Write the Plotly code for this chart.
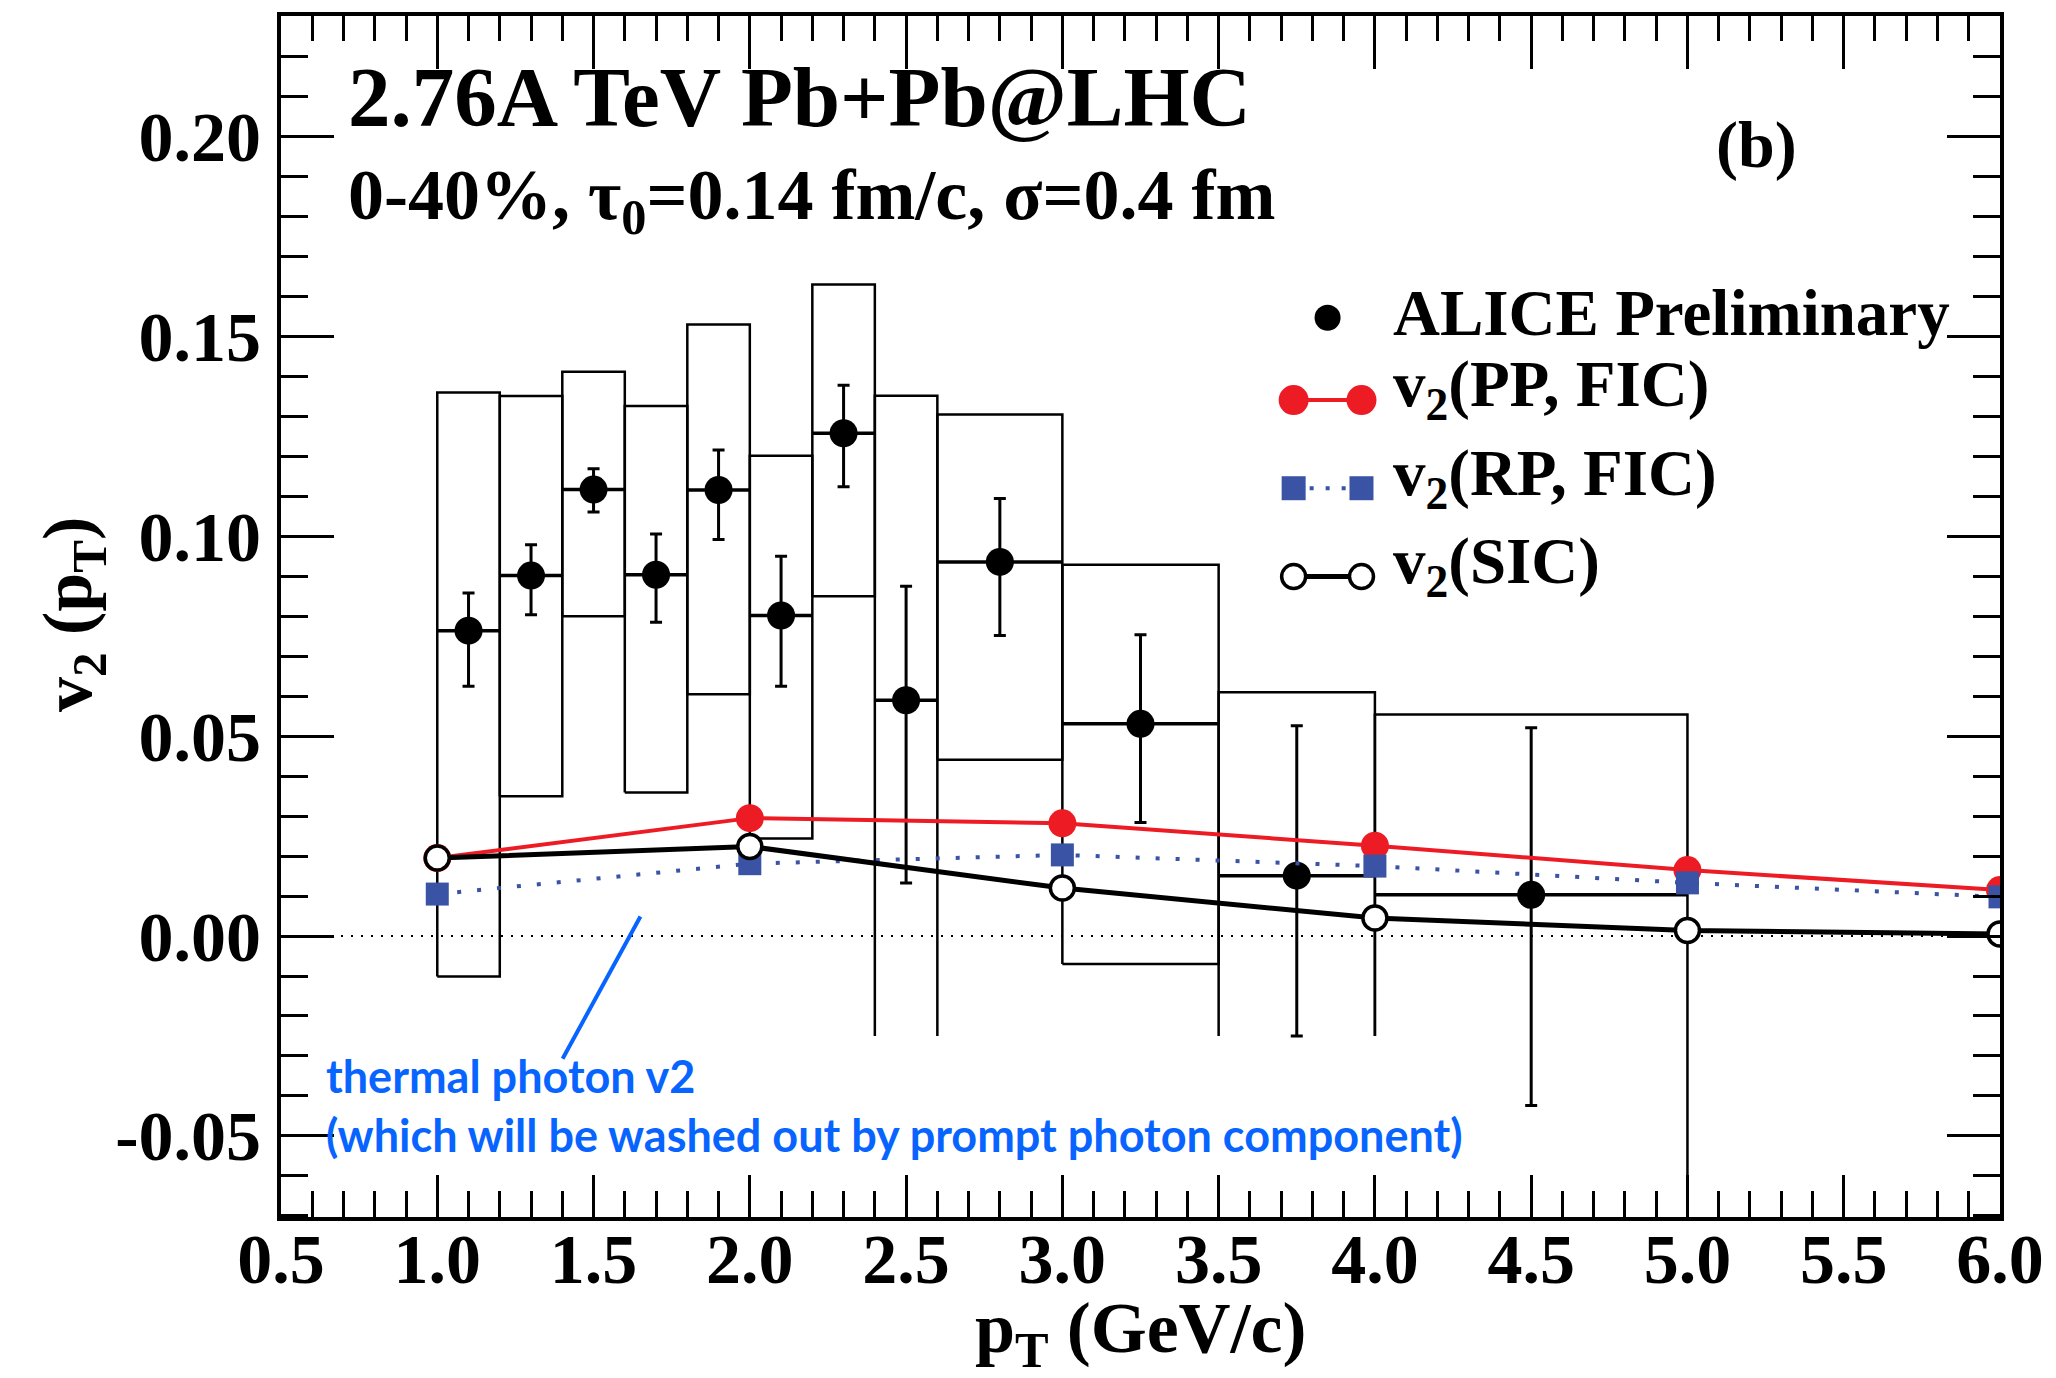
import plotly.graph_objects as go

# ---------------- data ----------------
# ALICE preliminary direct-photon v2 (0-40%)
alice_pt = [1.1, 1.3, 1.5, 1.7, 1.9, 2.1, 2.3, 2.5, 2.8, 3.25, 3.75, 4.5]
alice_v2 = [0.0764, 0.0902, 0.1117, 0.0904, 0.1116, 0.0802, 0.1258, 0.0590, 0.0936, 0.0531, 0.0151, 0.0103]
alice_stat_up = [0.0094, 0.0077, 0.0052, 0.0102, 0.0100, 0.0148, 0.0120, 0.0285, 0.0159, 0.0223, 0.0375, 0.0418]
alice_stat_dn = [0.0139, 0.0098, 0.0056, 0.0119, 0.0124, 0.0177, 0.0134, 0.0457, 0.0184, 0.0247, 0.0401, 0.0527]
bin_lo = [1.0, 1.2, 1.4, 1.6, 1.8, 2.0, 2.2, 2.4, 2.6, 3.0, 3.5, 4.0]
bin_hi = [1.2, 1.4, 1.6, 1.8, 2.0, 2.2, 2.4, 2.6, 3.0, 3.5, 4.0, 5.0]
sys_top = [0.1360, 0.1351, 0.1412, 0.1326, 0.1530, 0.1202, 0.1630, 0.1352, 0.1305, 0.0929, 0.0610, 0.0554]
sys_bottom = [-0.0101, 0.0350, 0.0800, 0.0359, 0.0605, 0.0244, 0.0850, -0.025, 0.0441, -0.0070, -0.025, -0.025]
sys_bottom_shown = [True, True, True, True, True, True, True, False, True, True, False, False]

# hydro calculations
model_pt = [1.0, 2.0, 3.0, 4.0, 5.0, 6.0]
v2_pp_fic = [0.0195, 0.0295, 0.0282, 0.0226, 0.0165, 0.0115]
v2_rp_fic = [0.0105, 0.0181, 0.0203, 0.0175, 0.0133, 0.0098]
v2_sic = [0.0195, 0.0224, 0.0120, 0.0045, 0.0014, 0.0005]

x_ticks = [0.5, 1.0, 1.5, 2.0, 2.5, 3.0, 3.5, 4.0, 4.5, 5.0, 5.5, 6.0]
y_ticks = [-0.05, 0.0, 0.05, 0.10, 0.15, 0.20]
y_tick_text = ["-0.05", "0.00", "0.05", "0.10", "0.15", "0.20"]

X_RANGE = [0.5, 6.0]
Y_RANGE = [-0.0703, 0.2302]

# ---------------- style ----------------
SERIF = "Liberation Serif, Times New Roman, serif"
SANS = "Lato, Noto Sans, sans-serif"
RED = "rgb(237,28,36)"
BLUE = "rgb(58,83,164)"
TXT_BLUE = "rgb(8,100,255)"

fig = go.Figure()

# systematic boxes (open paths)
bx, by = [], []
for i in range(len(bin_lo)):
    lo, hi, top, bot = bin_lo[i], bin_hi[i], sys_top[i], sys_bottom[i]
    bot_r = bot if (sys_bottom_shown[i] or i < len(bin_lo) - 1) else Y_RANGE[0]
    bx += [lo, lo, hi, hi]
    by += [bot, top, top, bot_r]
    if sys_bottom_shown[i]:
        bx += [lo]
        by += [bot]
    bx.append(None)
    by.append(None)
fig.add_trace(go.Scatter(x=bx, y=by, mode="lines", line=dict(color="black", width=2.5),
                         hoverinfo="skip", showlegend=False))

# ALICE points
fig.add_trace(go.Scatter(
    x=alice_pt, y=alice_v2, mode="markers",
    marker=dict(symbol="circle", size=28, color="black"),
    error_y=dict(type="data", symmetric=False, array=alice_stat_up, arrayminus=alice_stat_dn,
                 color="black", thickness=3, width=6),
    error_x=dict(type="data", symmetric=False,
                 array=[h - p for h, p in zip(bin_hi, alice_pt)],
                 arrayminus=[p - l for p, l in zip(alice_pt, bin_lo)],
                 color="black", thickness=3.5, width=0),
    showlegend=False, hoverinfo="skip"))

# models
fig.add_trace(go.Scatter(x=model_pt, y=v2_pp_fic, mode="lines+markers",
                         line=dict(color=RED, width=4),
                         marker=dict(symbol="circle", size=28, color=RED),
                         showlegend=False))
fig.add_trace(go.Scatter(x=model_pt, y=v2_rp_fic, mode="lines+markers",
                         line=dict(color=BLUE, width=4, dash="4px,16px"),
                         marker=dict(symbol="square", size=23, color=BLUE),
                         showlegend=False))
fig.add_trace(go.Scatter(x=model_pt, y=v2_sic, mode="lines+markers",
                         line=dict(color="black", width=5),
                         marker=dict(symbol="circle", size=24, color="white",
                                     line=dict(color="black", width=3.5)),
                         showlegend=False))

# dummy trace to anchor top mirror axis
fig.add_trace(go.Scatter(x=model_pt, y=v2_sic, xaxis="x2", mode="markers",
                         marker=dict(opacity=0), hoverinfo="skip", showlegend=False))

tickfont = dict(family=SERIF, size=70, color="black", weight="bold")
fig.update_layout(
    width=2056, height=1378,
    margin=dict(l=281, r=52, t=13, b=161),
    paper_bgcolor="white", plot_bgcolor="white",
    showlegend=False,
    xaxis=dict(range=X_RANGE, tickvals=x_ticks, tickformat=".1f", ticks="inside",
               ticklen=42, tickwidth=3, tickcolor="black",
               minor=dict(dtick=0.1, tick0=0.5, ticks="inside", ticklen=26, tickwidth=3, tickcolor="black"),
               showline=True, linewidth=4, linecolor="black", mirror=True,
               showgrid=False, zeroline=False, tickfont=tickfont, ticklabelstandoff=-22),
    xaxis2=dict(range=X_RANGE, overlaying="x", side="top", anchor="y", tickvals=x_ticks,
                ticks="inside", ticklen=53, tickwidth=3, tickcolor="black",
                minor=dict(dtick=0.1, tick0=0.5, ticks="inside", ticklen=25, tickwidth=3, tickcolor="black"),
                showticklabels=False, showline=False, showgrid=False, zeroline=False),
    yaxis=dict(range=Y_RANGE, tickvals=y_ticks, ticktext=y_tick_text, ticks="inside",
               ticklen=53, tickwidth=3, tickcolor="black",
               minor=dict(dtick=0.01, tick0=0.0, ticks="inside", ticklen=27, tickwidth=3, tickcolor="black"),
               showline=True, linewidth=4, linecolor="black", mirror="ticks",
               showgrid=False, zeroline=False, tickfont=tickfont, ticklabelstandoff=2),
)

# zero reference line
fig.add_shape(type="line", xref="x", yref="y", x0=X_RANGE[0], x1=X_RANGE[1], y0=0, y1=0,
              line=dict(color="black", width=2, dash="2px,8px"), layer="below")

# pointer line for the thermal-photon note
fig.add_shape(type="line", xref="x", yref="y", x0=1.650, y0=0.0049, x1=1.401, y1=-0.0307,
              line=dict(color=TXT_BLUE, width=4))

def px_x(p):
    return (p - 281) / 1723.0

def px_y(p):
    return (1217 - p) / 1204.0

ann = []
ann.append(dict(text="2.76A TeV Pb+Pb@LHC", x=px_x(346), y=px_y(94), xanchor="left", yanchor="middle",
                font=dict(family=SERIF, size=85, color="black", weight="bold")))
ann.append(dict(text="0-40%, τ<sub>0</sub>=0.14 fm/c, σ=0.4 fm", x=px_x(346), y=px_y(197), xanchor="left",
                yanchor="middle", font=dict(family=SERIF, size=72, color="black", weight="bold")))
ann.append(dict(text="(b)", x=px_x(1760), y=px_y(142), xanchor="center", yanchor="middle",
                font=dict(family=SERIF, size=66, color="black", weight="bold")))
ann.append(dict(text="v<sub>2</sub> (p<sub>T</sub>)", x=px_x(72), y=px_y(613), xanchor="center", yanchor="middle",
                textangle=-90, font=dict(family=SERIF, size=70, color="black", weight="bold")))
ann.append(dict(text="p<sub>T</sub> (GeV/c)", x=px_x(1143), y=px_y(1333), xanchor="center", yanchor="middle",
                font=dict(family=SERIF, size=72, color="black", weight="bold")))
ann.append(dict(text="thermal photon v2", x=px_x(324), y=px_y(1076), xanchor="left", yanchor="middle",
                font=dict(family=SANS, size=45, color=TXT_BLUE, weight="bold")))
ann.append(dict(text="(which will be washed out by prompt photon component)", x=px_x(324), y=px_y(1135),
                xanchor="left", yanchor="middle",
                font=dict(family=SANS, size=45, color=TXT_BLUE, weight="bold")))

# legend (drawn manually)
leg_font = dict(family=SERIF, size=65, color="black", weight="bold")
leg_text_x = px_x(1394)
leg_rows = [("ALICE Preliminary", 311, 315.5), ("v<sub>2</sub>(PP, FIC)", 387, 398),
            ("v<sub>2</sub>(RP, FIC)", 476.5, 486.4), ("v<sub>2</sub>(SIC)", 564, 575)]
for label, ty, my in leg_rows:
    ann.append(dict(text=label, x=leg_text_x, y=px_y(ty), xanchor="left", yanchor="middle", font=leg_font))

for a in ann:
    a.update(xref="paper", yref="paper", showarrow=False)
fig.update_layout(annotations=ann)

kx0, kx1, kxm = px_x(1296), px_x(1364), px_x(1330)

def circ(xc, yc, d, fill, line_color, lw):
    fig.add_shape(type="circle", xref="paper", yref="paper", xsizemode="pixel", ysizemode="pixel",
                  xanchor=xc, yanchor=yc, x0=-d / 2, x1=d / 2, y0=-d / 2, y1=d / 2,
                  fillcolor=fill, line=dict(color=line_color, width=lw))

def sq(xc, yc, s, fill):
    fig.add_shape(type="rect", xref="paper", yref="paper", xsizemode="pixel", ysizemode="pixel",
                  xanchor=xc, yanchor=yc, x0=-s / 2, x1=s / 2, y0=-s / 2, y1=s / 2,
                  fillcolor=fill, line=dict(width=0))

# ALICE key
circ(kxm, px_y(leg_rows[0][2]), 26, "black", "black", 0)
# PP key
yk = px_y(leg_rows[1][2])
fig.add_shape(type="line", xref="paper", yref="paper", x0=kx0, x1=kx1, y0=yk, y1=yk, line=dict(color=RED, width=4))
circ(kx0, yk, 30, RED, RED, 0)
circ(kx1, yk, 30, RED, RED, 0)
# RP key
yk = px_y(leg_rows[2][2])
fig.add_shape(type="line", xref="paper", yref="paper", x0=kx0, x1=kx1, y0=yk, y1=yk,
              line=dict(color=BLUE, width=4, dash="4px,12px"))
sq(kx0, yk, 24, BLUE)
sq(kx1, yk, 24, BLUE)
# SIC key
yk = px_y(leg_rows[3][2])
fig.add_shape(type="line", xref="paper", yref="paper", x0=kx0, x1=kx1, y0=yk, y1=yk, line=dict(color="black", width=5))
circ(kx0, yk, 24, "white", "black", 3.5)
circ(kx1, yk, 24, "white", "black", 3.5)

fig.write_html("out.html")
